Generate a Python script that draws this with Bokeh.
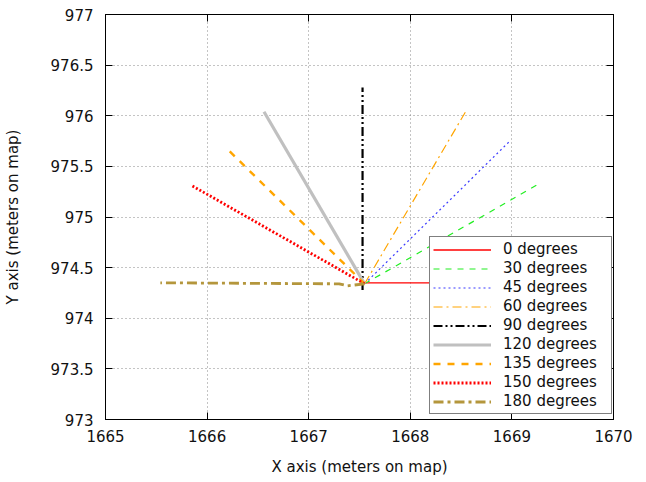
from bokeh.plotting import figure
from bokeh.models import LinearAxis, FixedTicker, Range1d
from bokeh.embed import file_html
from bokeh.resources import INLINE

# ---- data ----
labels = ["0 degrees", "30 degrees", "45 degrees", "60 degrees", "90 degrees",
          "120 degrees", "135 degrees", "150 degrees", "180 degrees"]
x_0 = [1667.55, 1669.55]
y_0 = [974.35, 974.35]
x_30 = [1667.55, 1669.27]
y_30 = [974.34, 975.33]
x_45 = [1667.55, 1668.97]
y_45 = [974.34, 975.74]
x_60 = [1667.55, 1668.55]
y_60 = [974.34, 976.05]
x_90 = [1667.53, 1667.53]
y_90 = [974.28, 976.28]
x_120 = [1667.55, 1666.56]
y_120 = [974.34, 976.04]
x_135 = [1667.55, 1666.18]
y_135 = [974.34, 975.69]
x_150 = [1667.55, 1665.85]
y_150 = [974.34, 975.31]
x_180 = [1667.55, 1667.38, 1667.3, 1665.54]
y_180 = [974.34, 974.32, 974.34, 974.35]

x_ticks = [1665, 1666, 1667, 1668, 1669, 1670]
x_tick_labels = ["1665", "1666", "1667", "1668", "1669", "1670"]
y_ticks = [973, 973.5, 974, 974.5, 975, 975.5, 976, 976.5, 977]
y_tick_labels = ["973", "973.5", "974", "974.5", "975", "975.5", "976", "976.5", "977"]

FONT = "DejaVu Sans"

p = figure(frame_width=508, frame_height=405, output_backend="svg", toolbar_location=None,
           x_range=Range1d(1665, 1670), y_range=Range1d(973, 977),
           min_border_left=99, min_border_right=23, min_border_top=14, min_border_bottom=56)
p.background_fill_color = "white"
p.border_fill_color = "white"
p.outline_line_color = "black"
p.outline_line_width = 1

series = [
    (x_0, y_0, "#ff0000", 1.3, "solid"),
    (x_30, y_30, "#22ee22", 1.2, "6 6"),
    (x_45, y_45, "#3a3aff", 1.2, "2 3"),
    (x_60, y_60, "#ffa500", 1.2, "9 4 2 4"),
    (x_90, y_90, "#000000", 2.2, "9 3 2 3 2 3"),
    (x_120, y_120, "#c0c0c0", 3.2, "solid"),
    (x_135, y_135, "#ffa500", 2.4, "7 7"),
    (x_150, y_150, "#ff0000", 2.8, "2 2"),
    (x_180, y_180, "#b4963c", 2.8, "10 4 3 4"),
]
for (xs, ys, col, w, dash), lab in zip(series, labels):
    p.line(xs, ys, line_color=col, line_width=w, line_dash=dash, legend_label=lab)

# axes
for ax, ticks, tl in [(p.xaxis[0], x_ticks, x_tick_labels), (p.yaxis[0], y_ticks, y_tick_labels)]:
    ax.ticker = FixedTicker(ticks=ticks)
    ax.major_label_overrides = {t: s for t, s in zip(ticks, tl)}
    ax.major_tick_in = 7
    ax.major_tick_out = 0
    ax.minor_tick_in = 0
    ax.minor_tick_out = 0
    ax.major_label_text_font = FONT
    ax.major_label_text_font_size = "15px"
    ax.major_label_text_color = "#111111"
    ax.axis_label_text_font = FONT
    ax.axis_label_text_font_size = "15px"
    ax.axis_label_text_font_style = "normal"
    ax.axis_label_text_color = "#111111"
    ax.axis_line_color = "black"
    ax.major_tick_line_color = "black"

p.xaxis.axis_label = "X axis (meters on map)"
p.yaxis.axis_label = "Y axis (meters on map)"
p.xaxis.major_label_standoff = 10
p.xaxis.axis_label_standoff = 13
p.yaxis.major_label_standoff = 12
p.yaxis.axis_label_standoff = 26

# mirror ticks (labels not drawn)
r_ax = LinearAxis(ticker=FixedTicker(ticks=y_ticks), major_tick_in=7, major_tick_out=0,
                  minor_tick_in=0, minor_tick_out=0, major_label_text_font_size="1px",
                  major_label_text_color=None, major_label_standoff=0)
t_ax = LinearAxis(ticker=FixedTicker(ticks=x_ticks), major_tick_in=7, major_tick_out=0,
                  minor_tick_in=0, minor_tick_out=0, major_label_text_font_size="1px",
                  major_label_text_color=None, major_label_standoff=0)
p.add_layout(r_ax, "right")
p.add_layout(t_ax, "above")

# grid
p.xgrid.ticker = FixedTicker(ticks=x_ticks)
p.ygrid.ticker = FixedTicker(ticks=y_ticks)
for g in (p.xgrid[0], p.ygrid[0]):
    g.grid_line_color = "#888888"
    g.grid_line_dash = "1 3"
    g.grid_line_width = 1

# legend
lg = p.legend[0]
lg.location = (324, 5)
lg.margin = 0
lg.padding = 3
lg.spacing = 1
lg.label_height = 17
lg.glyph_height = 17
lg.glyph_width = 58
lg.label_width = 105
lg.label_standoff = 12
lg.label_text_font = FONT
lg.label_text_font_size = "15px"
lg.label_text_color = "#111111"
lg.border_line_color = "black"
lg.border_line_width = 1
lg.background_fill_color = "white"
lg.background_fill_alpha = 1.0

open("out.html", "w").write(file_html(p, INLINE))
